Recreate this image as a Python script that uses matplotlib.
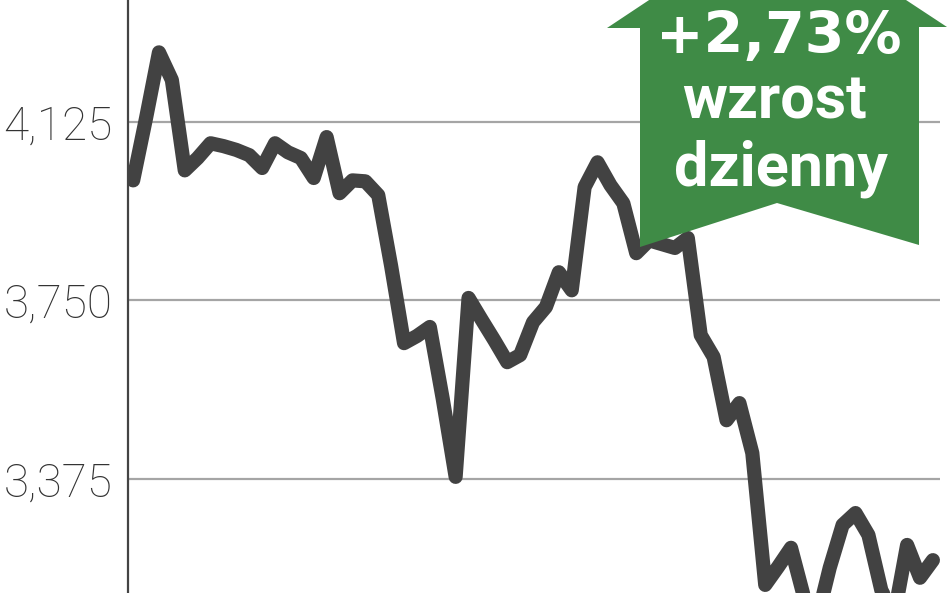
import matplotlib
matplotlib.use("Agg")
import matplotlib.pyplot as plt
from matplotlib.patches import Polygon

# daily close
days = list(range(63))
close = [4002, 4133, 4271, 4213, 4023, 4049, 4080, 4074, 4066, 4055,
         4028, 4080, 4061, 4049, 4007, 4093, 3975, 4002, 4000, 3971,
         3822, 3660, 3675, 3694, 3543, 3379, 3755, 3710, 3666, 3620,
         3635, 3704, 3736, 3809, 3771, 3988, 4040, 3992, 3954, 3849,
         3876, 3868, 3860, 3881, 3677, 3631, 3498, 3534, 3429, 3152,
         3190, 3230, 3127, 3078, 3188, 3278, 3303, 3257, 3141, 3089,
         3236, 3167, 3204]
yticks = [3375, 3750, 4125]
ytick_labels = ["3,375", "3,750", "4,125"]
badge_lines = ["+2,73%", "wzrost", "dzienny"]

W, H = 948, 593
fig = plt.figure(figsize=(W / 100, H / 100), dpi=100)
ax = fig.add_axes([128 / W, 0, (940 - 128) / W, 1])

ax.plot(days, close, color="#424242", lw=10.2, solid_joinstyle="round",
        solid_capstyle="round", zorder=3)
ax.set_xlim(days[0] - 0.4, days[-1] + 0.55)
ax.set_ylim(3135, 4381)

ax.set_yticks(yticks)
ax.set_yticklabels(ytick_labels, family="Roboto", fontweight="light",
                   fontsize=33, color="#333333")
ax.set_xticks([])
ax.tick_params(axis="y", length=0, pad=11)
ax.grid(axis="y", color="#a5a5a5", lw=1.6, zorder=1)
ax.set_axisbelow(True)
for s in ["top", "right", "bottom"]:
    ax.spines[s].set_visible(False)
ax.spines["left"].set_color("#444444")
ax.spines["left"].set_linewidth(1.6)

# green "up" arrow badge (pixel outline -> figure fraction)
outline = [(640, 247), (777, 203), (919, 245), (919, 27), (947, 27),
           (777, -85), (607, 28), (640, 28)]
pts = [(x / W, 1 - y / H) for x, y in outline]
fig.patches.append(Polygon(pts, closed=True, transform=fig.transFigure,
                           facecolor="#3f8b46", edgecolor="none", zorder=5))

fig.text(779 / W, 1 - 53 / H, badge_lines[0], color="white", fontsize=41,
         fontweight="bold", family="DejaVu Sans", ha="center",
         va="baseline", zorder=6)
fig.text(775 / W, 1 - 118 / H, badge_lines[1], color="white", fontsize=44,
         fontweight="bold", family="Roboto", ha="center", va="baseline",
         zorder=6)
fig.text(781 / W, 1 - 185 / H, badge_lines[2], color="white", fontsize=44,
         fontweight="bold", family="Roboto", ha="center", va="baseline",
         zorder=6)

fig.savefig("out.png", dpi=100)
